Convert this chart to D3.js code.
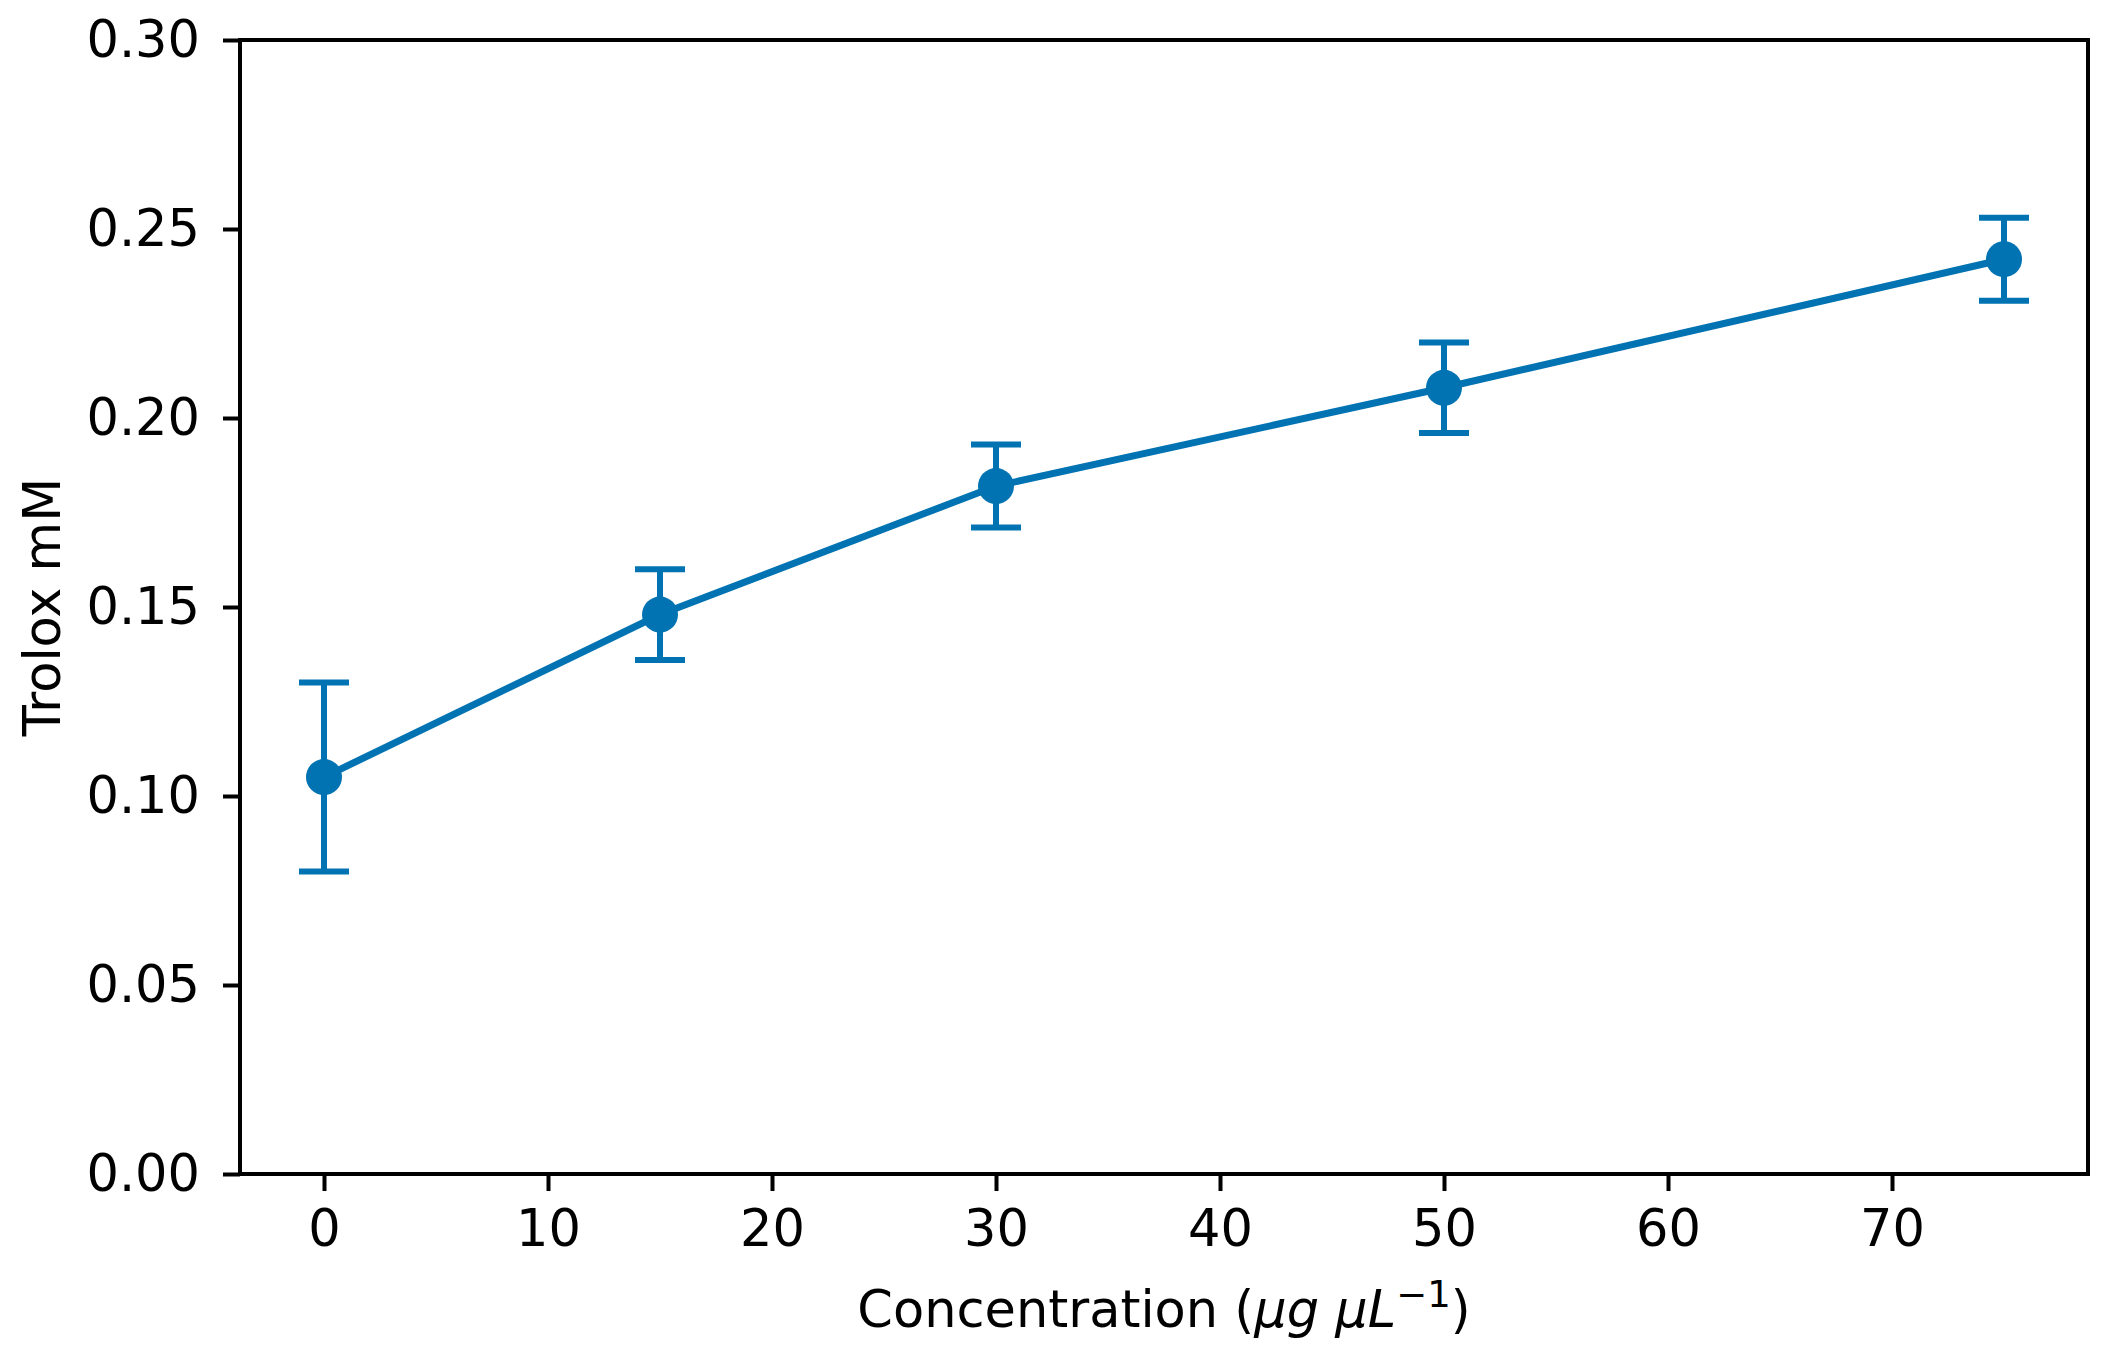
<!DOCTYPE html>
<html>
<head>
<meta charset="utf-8">
<script src="https://d3js.org/d3.v7.min.js"></script>
<style>
body{margin:0;background:#fff;}
text{font-family:"DejaVu Sans",sans-serif;}
</style>
</head>
<body>
<script>
// values
var conc=[0,15,30,50,75];
var trolox=[0.105,0.148,0.182,0.208,0.242];
var sd=[0.025,0.012,0.011,0.012,0.011];
var xTicks=[0,10,20,30,40,50,60,70];
var yTicks=[0,0.05,0.10,0.15,0.20,0.25,0.30];

var W=2111,H=1357;
// plot box ("top" is taken by window.top, so prefix them)
var pL=240,pR=2088,pT=40,pB=1174;
var blue="#0173b2";

var svg=d3.select("body").append("svg")
	.attr("width",W)
	.attr("height",H);

var x=d3.scaleLinear().domain([-3.75,78.75]).range([pL,pR]);
var y=d3.scaleLinear().domain([0,0.30]).range([pB,pT]);

// axes
var gx=svg.append("g")
	.attr("transform","translate(0,"+pB+")")
	.call(d3.axisBottom(x).tickValues(xTicks).tickSize(17).tickPadding(19).tickSizeOuter(0));
var gy=svg.append("g")
	.attr("transform","translate("+pL+",0)")
	.call(d3.axisLeft(y).tickValues(yTicks).tickFormat(d3.format(".2f")).tickSize(17).tickPadding(23).tickSizeOuter(0));

[gx,gy].forEach(function(g){
	g.select(".domain").remove();
	g.selectAll(".tick line").attr("stroke","#000").attr("stroke-width",4);
	g.selectAll(".tick text").attr("fill","#000").style("font-size","51px").style("font-family","DejaVu Sans");
});

// frame
svg.append("rect")
	.attr("x",pL).attr("y",pT)
	.attr("width",pR-pL).attr("height",pB-pT)
	.attr("fill","none").attr("stroke","#000").attr("stroke-width",4);

var pts=conc.map(function(c,i){return {c:c,v:trolox[i],e:sd[i]};});

// line
var line=d3.line().x(function(d){return x(d.c);}).y(function(d){return y(d.v);});
svg.append("path")
	.datum(pts)
	.attr("d",line)
	.attr("fill","none")
	.attr("stroke",blue)
	.attr("stroke-width",7);

// error bars
var eb=svg.append("g").attr("stroke",blue).attr("stroke-width",6);
eb.selectAll(".v").data(pts).enter().append("line")
	.attr("x1",function(d){return x(d.c);})
	.attr("x2",function(d){return x(d.c);})
	.attr("y1",function(d){return y(d.v-d.e);})
	.attr("y2",function(d){return y(d.v+d.e);});
eb.selectAll(".capT").data(pts).enter().append("line")
	.attr("x1",function(d){return x(d.c)-25;})
	.attr("x2",function(d){return x(d.c)+25;})
	.attr("y1",function(d){return y(d.v+d.e);})
	.attr("y2",function(d){return y(d.v+d.e);});
eb.selectAll(".capB").data(pts).enter().append("line")
	.attr("x1",function(d){return x(d.c)-25;})
	.attr("x2",function(d){return x(d.c)+25;})
	.attr("y1",function(d){return y(d.v-d.e);})
	.attr("y2",function(d){return y(d.v-d.e);});

// markers
svg.selectAll("circle").data(pts).enter().append("circle")
	.attr("cx",function(d){return x(d.c);})
	.attr("cy",function(d){return y(d.v);})
	.attr("r",18)
	.attr("fill",blue);

// labels
var xl=svg.append("text")
	.attr("x",(pL+pR)/2)
	.attr("y",1327)
	.attr("text-anchor","middle")
	.style("font-size","51px");
xl.append("tspan").text("Concentration (");
xl.append("tspan").style("font-style","italic").text("\u03bcg \u03bcL");
xl.append("tspan").attr("dy",-20).style("font-size","37px").text("\u22121");
xl.append("tspan").attr("dy",20).text(")");

svg.append("text")
	.attr("transform","translate(60,"+((pT+pB)/2)+") rotate(-90)")
	.attr("text-anchor","middle")
	.style("font-size","51px")
	.text("Trolox mM");
</script>
</body>
</html>
